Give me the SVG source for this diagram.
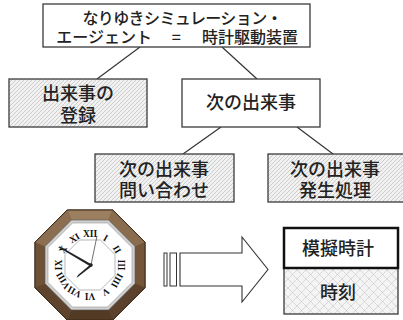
<svg xmlns="http://www.w3.org/2000/svg" width="403" height="320" viewBox="0 0 403 320">
  <defs>
    <pattern id="diag" width="4" height="4" patternUnits="userSpaceOnUse">
      <rect width="4" height="4" fill="#f1f1f1"/>
      <path d="M-1,1 L1,-1 M0,4 L4,0 M3,5 L5,3" stroke="#bdbdbd" stroke-width="0.7"/>
    </pattern>
    <pattern id="cross" width="9" height="9" patternUnits="userSpaceOnUse">
      <rect width="9" height="9" fill="#f4f4f4"/>
      <path d="M0,0 L9,9 M9,0 L0,9" stroke="#c4c4c4" stroke-width="0.6"/>
    </pattern>
    <style>
      .box { stroke: #3a3a3a; stroke-width: 1.3; }
      .plain { fill: #ffffff; }
      .hatch { fill: url(#diag); }
      .lbl { font-family: "Noto Sans CJK JP", "Noto Sans CJK SC", sans-serif; font-weight: 500; fill: #222; text-anchor: middle; }
      .t16 { font-size: 16px; }
      .t18 { font-size: 18px; }
      .link { stroke: #333; stroke-width: 1.2; fill: none; }
      .num { font-family: "Liberation Serif", serif; font-weight: bold; font-size: 9.5px; fill: #111; text-anchor: middle; }
    </style>
  </defs>

  <rect width="403" height="320" fill="#ffffff"/>

  <!-- tree connectors -->
  <g id="connectors">
    <line class="link" x1="140" y1="47" x2="97" y2="79"/>
    <line class="link" x1="222" y1="47" x2="257" y2="79"/>
    <line class="link" x1="221" y1="127" x2="183" y2="154"/>
    <line class="link" x1="297" y1="127" x2="333" y2="154"/>
  </g>

  <g id="agent">
    <rect class="box plain" x="43" y="4" width="267" height="43"/>
    <text class="lbl t16">
      <tspan x="184" y="24" letter-spacing="-0.6">なりゆきシミュレーション・</tspan>
      <tspan x="106" y="43">エージェント</tspan>
      <tspan x="178" y="43">=</tspan>
      <tspan x="250" y="43">時計駆動装置</tspan>
    </text>
  </g>

  <g id="register">
    <rect class="box hatch" x="9" y="79" width="138" height="48"/>
    <text class="lbl t18"><tspan x="78" y="100">出来事の</tspan><tspan x="78" y="122">登録</tspan></text>
  </g>

  <g id="next">
    <rect class="box plain" x="182" y="79" width="138" height="48"/>
    <text class="lbl t18" x="251" y="109">次の出来事</text>
  </g>

  <g id="query">
    <rect class="box hatch" x="95" y="154" width="139" height="48"/>
    <text class="lbl t18"><tspan x="164" y="176">次の出来事</tspan><tspan x="164" y="197">問い合わせ</tspan></text>
  </g>

  <g id="occur">
    <rect class="box hatch" x="268" y="154" width="140" height="48"/>
    <text class="lbl t18"><tspan x="335" y="176">次の出来事</tspan><tspan x="335" y="197">発生処理</tspan></text>
  </g>

  <!-- octagonal wall clock -->
  <g id="clock">
    <polygon points="67.2,210 112.8,210 145,242.2 145,287.8 112.8,320 67.2,320 35,287.8 35,242.2" fill="#6a4f36" stroke="#3a2a1a" stroke-width="1"/>
    <polygon points="67.2,210 112.8,210 108.6,220 71.4,220" fill="#9c7f5e"/>
    <polygon points="112.8,210 145,242.2 135,246.4 108.6,220" fill="#8a6d4e"/>
    <polygon points="145,242.2 145,287.8 135,283.6 135,246.4" fill="#735639"/>
    <polygon points="145,287.8 112.8,320 108.6,310 135,283.6" fill="#5c422c"/>
    <polygon points="112.8,320 67.2,320 71.4,310 108.6,310" fill="#523a25"/>
    <polygon points="67.2,320 35,287.8 45,283.6 71.4,310" fill="#5e442d"/>
    <polygon points="35,287.8 35,242.2 45,246.4 45,283.6" fill="#6e5238"/>
    <polygon points="35,242.2 67.2,210 71.4,220 45,246.4" fill="#8c6f50"/>
    <polygon points="67.2,210 112.8,210 145,242.2 145,287.8 112.8,320 67.2,320 35,287.8 35,242.2" fill="none" stroke="#3a2a1a" stroke-width="1"/>
    <polygon points="71.4,220 108.6,220 135,246.4 135,283.6 108.6,310 71.4,310 45,283.6 45,246.4" fill="#cfcfcf" stroke="#555" stroke-width="0.6"/>
    <polygon points="72.6,223 107.4,223 132,247.6 132,282.4 107.4,307 72.6,307 48,282.4 48,247.6" fill="#ffffff" stroke="#999" stroke-width="0.6"/>
    <polygon points="79.6,240 100.4,240 115,254.6 115,275.4 100.4,290 79.6,290 65,275.4 65,254.6" fill="none" stroke="#9a9a9a" stroke-width="0.7"/>
    <g transform="translate(90,265)">
      <text class="num" transform="rotate(0) translate(0,-28)">XII</text>
      <text class="num" transform="rotate(30) translate(0,-28)">I</text>
      <text class="num" transform="rotate(60) translate(0,-28)">II</text>
      <text class="num" transform="rotate(90) translate(0,-28)">III</text>
      <text class="num" transform="rotate(120) translate(0,-28)">IIII</text>
      <text class="num" transform="rotate(150) translate(0,-28)">V</text>
      <text class="num" transform="rotate(180) translate(0,-28)">VI</text>
      <text class="num" transform="rotate(210) translate(0,-28)">VII</text>
      <text class="num" transform="rotate(240) translate(0,-28)">VIII</text>
      <text class="num" transform="rotate(270) translate(0,-28)">IX</text>
      <text class="num" transform="rotate(300) translate(0,-28)">X</text>
      <text class="num" transform="rotate(330) translate(0,-28)">XI</text>
    </g>
    <!-- hands -->
    <polygon points="91,264 60,246.5 58,247 90.5,266.5" fill="#222"/>
    <polygon points="91,264 78,275 76.5,278 92,266" fill="#222"/>
    <line x1="91" y1="265" x2="97" y2="236" stroke="#333" stroke-width="0.7"/>
    <circle cx="91" cy="265" r="1.8" fill="#222"/>
  </g>

  <!-- transfer arrow -->
  <g id="arrow">
    <rect x="164" y="253" width="3" height="33" fill="#fff" stroke="#333" stroke-width="1"/>
    <rect x="170" y="253" width="6.5" height="33" fill="#fff" stroke="#333" stroke-width="1"/>
    <polygon points="180,253 242,253 242,237 268,269.5 242,302 242,286 180,286" fill="#fff" stroke="#333" stroke-width="1.1"/>
  </g>

  <g id="clock-state">
    <rect x="284" y="268" width="114" height="46" fill="url(#cross)" stroke="#3a3a3a" stroke-width="1.3"/>
    <rect x="284" y="228" width="114" height="40" fill="#fff" stroke="#111" stroke-width="2.5"/>
    <text class="lbl t18" x="338" y="255">模擬時計</text>
    <text class="lbl t18" x="338" y="299">時刻</text>
  </g>
</svg>
